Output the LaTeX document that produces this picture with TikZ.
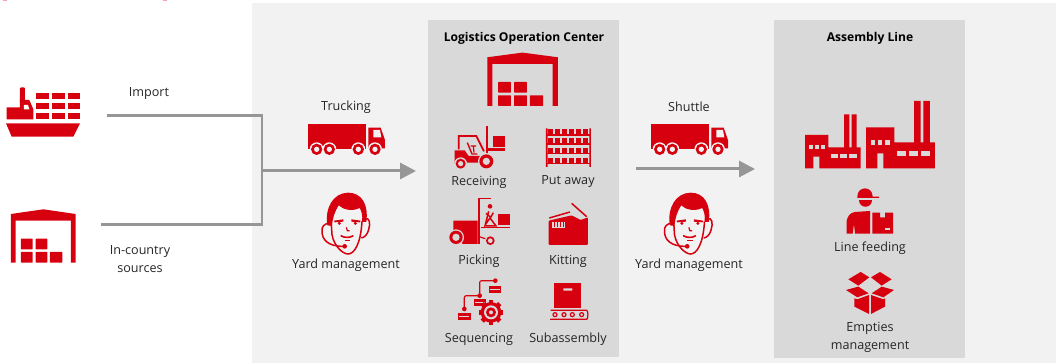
\documentclass[tikz,border=0pt]{standalone}
\usepackage{fontspec}
\setmainfont{Open Sans}
\usepackage{xcolor}
\usepackage{tikz}
\usetikzlibrary{positioning, arrows.meta}

\definecolor{brandred}{HTML}{D7000F}
\definecolor{panellight}{HTML}{F2F2F2}
\definecolor{panelgray}{HTML}{D9D9D9}
\definecolor{flowgray}{HTML}{969696}
\definecolor{inktext}{HTML}{262626}

\tikzset{
    brand/.style={fill=brandred, x=.3333pt, y=-.3333pt},
    brandline/.style={draw=brandred, line width=1.2pt, fill=none, x=.3333pt, y=-.3333pt},
    hole/.style={fill=#1, x=.3333pt, y=-.3333pt},
    % Warehouse
    warehouse/.pic={
        \fill[brand] (33,642) -- (130,628) -- (227,642) -- (227,788) -- (213,788) -- (213,662) -- (47,662) -- (47,788) -- (33,788) -- cycle;
        \foreach \bx/\by/\bw in {63/716/35, 107/716/35, 63/756/35, 107/756/35, 150/756/37}
            \fill[brand, rounded corners=.5pt] (\bx,\by) rectangle ++(\bw,32);
    },
    % Truck
    truck/.pic={
        \fill[brand] (83,132) rectangle (258,208);
        \fill[brand] (265,143) -- (302,143) -- (315,180) -- (315,205) -- (265,205) -- cycle;
        \fill[hole=panellight] (280,150) -- (300,150) -- (304,172) -- (280,172) -- cycle;
        \foreach \wx in {110, 148, 235, 285} {
            \fill[hole=panellight] (\wx,208) circle (21);
            \fill[brand] (\wx,208) circle (17);
            \fill[hole=panellight] (\wx,208) circle (8);
        }
    },
    % Operator with headset
    agent/.pic={
        \fill[brand] (28,112) .. controls (20,60) and (45,15) .. (90,14) .. controls (132,14) and (152,50) .. (145,102) -- (132,102) .. controls (135,82) and (130,68) .. (125,60) .. controls (100,72) and (75,64) .. (62,52) .. controls (50,72) and (44,88) .. (42,114) -- cycle;
        \draw[brandline, line width=1.5pt] (40,110) -- (42,140) .. controls (48,175) and (75,198) .. (90,198) .. controls (108,198) and (128,170) .. (132,100);
        \draw[brandline, line width=1.5pt] (32,105) .. controls (20,108) and (10,115) .. (12,130) .. controls (12,155) and (30,175) .. (75,175);
        \fill[brand] (80,175) circle (7);
        \draw[brandline, line width=1.5pt] (140,92) .. controls (155,88) and (158,105) .. (152,125) .. controls (148,140) and (140,148) .. (130,150);
        \fill[brand] (48,98) -- (76,94) -- (76,101) -- (50,103) -- cycle;
        \fill[brand] (100,94) -- (128,98) -- (126,103) -- (100,101) -- cycle;
        \fill[brand] (64,106) circle (5);
        \fill[brand] (112,106) circle (5);
        \draw[brandline] (85,118) -- (88,128) -- (95,128);
        \draw[brandline, line width=1.6pt] (68,143) .. controls (80,150) and (95,150) .. (106,143);
        \draw[brandline] (80,158) -- (96,158);
    },
    % Ship
    ship/.pic={
        \fill[brand] (18,370) -- (240,370) -- (220,410) -- (35,410) -- cycle;
        \fill[brand, rounded corners=1pt] (60,262) rectangle (75,310);
        \fill[brand] (20,322) -- (60,322) -- (60,300) -- (88,300) -- (100,328) -- (100,358) -- (20,358) -- cycle;
        \fill[hole=white] (72,315) -- (84,315) -- (88,328) -- (72,328) -- cycle;
        \foreach \cx in {108, 156, 203}
            \foreach \cy in {278, 308, 338}
                \fill[brand] (\cx,\cy) rectangle ++(38,20);
    },
    % Forklift
    forklift/.pic={
        \fill[brand] (113,12) rectangle (119,108);
        \fill[brand] (135,41) rectangle (171,76);
        \fill[brand] (120,79) rectangle (171,88);
        \draw[brandline, line width=1.8pt] (32,82) -- (32,42) -- (85,42) -- (108,88);
        \fill[brand] (20,85) -- (50,85) -- (62,102) -- (112,102) -- (112,122) -- (20,122) -- cycle;
        \draw[brandline, line width=1.4pt] (58,62) -- (72,96) -- (88,96);
        \draw[brandline] (68,72) -- (84,72) (76,72) -- (78,92);
        \foreach \wx/\wy/\wr in {38/125/15, 115/118/21} {
            \fill[hole=panelgray] (\wx,\wy) circle (\wr+4);
            \fill[brand] (\wx,\wy) circle (\wr);
            \fill[hole=panelgray] (\wx,\wy) circle (\wr*.52);
        }
    },
    % Rack
    rack/.pic={
        \fill[brand] (348,340) rectangle (353,456) (478,340) rectangle (483,456);
        \foreach \ry in {342, 370, 398, 428} {
            \foreach \rx in {355, 376, 397, 418, 439, 460}
                \fill[brand] (\rx,\ry) rectangle ++(15,17);
            \fill[brand] (348,\ry+15) rectangle (483,\ry+20);
        }
    },
    % Picking truck
    pickup/.pic={
        \fill[brand] (22,80) -- (95,80) -- (95,150) -- (50,150) -- (22,118) -- cycle;
        \draw[brandline, line width=1.6pt] (135,13) -- (99,13) -- (99,150);
        \draw[brandline] (100,128) -- (124,136);
        \draw[brandline] (104,100) -- (192,100);
        \fill[brand] (157,60) rectangle (192,92);
        \fill[brand] (132,37) circle (7);
        \draw[brandline, line width=1.5pt] (128,52) -- (118,92) -- (132,72) -- (150,96) -- (118,96);
        \draw[brandline, line width=1.5pt] (120,58) -- (134,70) -- (142,56);
        \foreach \wx/\wy/\wr in {30/130/20, 133/140/13} {
            \fill[hole=panelgray] (\wx,\wy) circle (\wr+4);
            \fill[brand] (\wx,\wy) circle (\wr);
            \fill[hole=panelgray] (\wx,\wy) circle (\wr*.55);
        }
    },
    % Open carton
    kitbox/.pic={
        \fill[brand, rounded corners=1pt] (356,92) -- (425,76) -- (452,90) -- (474,82) -- (474,165) -- (356,165) -- cycle;
        \draw[brandline, line width=1.5pt] (358,84) -- (420,66);
        \draw[brandline, line width=1.5pt] (425,40) -- (470,80);
        \fill[hole=panelgray] (367,95) rectangle (405,115);
        \foreach \kx in {372, 380, 390, 398}
            \fill[brand] (\kx,97) rectangle ++(3,14);
    },
    % Sequencing
    sequence/.pic={
        \draw[brandline, rounded corners=2pt] (130,20) -- (83,20) -- (83,65);
        \draw[brandline, rounded corners=2pt] (83,65) -- (37,65) -- (37,105);
        \foreach \dx/\dy in {130/20, 83/65, 37/105}
            \fill[brand] (\dx,\dy) circle (7);
        \foreach \lx/\ly in {110/35, 65/75, 18/118} {
            \fill[brand] (\lx,\ly) rectangle ++(38,21);
            \fill[hole=panelgray] (\lx+4,\ly+9) rectangle ++(30,3);
        }
        \foreach \ga in {0, 45, ..., 315}
            \fill[brand, rotate around={\ga:(117,115)}] (110,78) rectangle (124,90);
        \fill[brand] (117,115) circle (31);
        \fill[hole=panelgray] (117,115) circle (21);
        \fill[brand] (117,115) circle (15);
        \fill[hole=panelgray] (117,115) circle (6);
    },
    % Conveyor
    conveyor/.pic={
        \fill[brand] (373,280) rectangle (453,355);
        \fill[hole=panelgray, rounded corners=.5pt] (400,295) rectangle (427,302);
        \draw[brandline, rounded corners=4pt] (362,361) -- (458,361) .. controls (475,361) and (475,388) .. (458,388) -- (362,388);
        \fill[brand] (360,386) rectangle (470,391);
        \foreach \cx in {375, 402, 427, 455}
            \draw[brandline] (\cx,374) circle (6);
    },
    % Factory
    factory/.pic={
        \fill[brand] (105,345) -- (175,345) -- (175,382) -- (222,382) -- (222,283) -- (238,283) -- (238,382) -- (245,382) -- (245,283) -- (260,283) -- (260,382) -- (272,382) -- (272,445) -- (148,445) -- (148,410) -- (130,410) -- (130,445) -- (105,445) -- cycle;
        \fill[brand] (288,322) -- (373,322) -- (373,367) -- (432,367) -- (432,243) -- (452,243) -- (452,367) -- (460,367) -- (460,243) -- (480,243) -- (480,367) -- (495,367) -- (495,445) -- (340,445) -- (340,400) -- (322,400) -- (322,445) -- (288,445) -- cycle;
        \foreach \wx/\wy/\ww/\wh in {116/376/12/12, 134/376/12/12, 152/376/12/12, 182/402/22/12, 210/402/22/12, 238/402/22/12, 302/360/14/15, 323/360/14/15, 345/360/14/15, 382/392/26/16, 418/392/26/16, 454/392/26/16}
            \fill[hole=panelgray] (\wx,\wy) rectangle ++(\ww,\wh);
    },
    % Line feeder
    feeder/.pic={
        \fill[brand] (262,530) .. controls (262,497) and (308,497) .. (308,530) -- (327,530) -- (327,534) -- (262,534) -- cycle;
        \fill[brand] (266,539) -- (305,539) .. controls (305,567) and (266,567) .. (266,539) -- cycle;
        \fill[brand] (230,641) -- (230,603) .. controls (232,590) and (240,578) .. (255,576) -- (300,573) -- (300,641) -- (255,641) -- (252,612) -- (248,641) -- cycle;
        \fill[brand] (307,578) -- (330,578) -- (330,592) -- (345,592) -- (345,578) -- (369,578) -- (369,641) -- (307,641) -- cycle;
        \fill[hole=panelgray] (345,625) rectangle (360,630);
    },
    % Flat carton
    carton/.pic={
        \fill[brand] (235,778) -- (272,756) -- (298,772) -- (265,797) -- cycle;
        \fill[brand] (303,772) -- (330,756) -- (365,778) -- (335,797) -- cycle;
        \fill[brand] (228,810) -- (265,800) -- (296,820) -- (262,832) -- cycle;
        \fill[brand] (305,820) -- (335,800) -- (372,810) -- (340,832) -- cycle;
        \fill[brand] (253,835) -- (262,838) -- (297,825) -- (297,882) -- (253,860) -- cycle;
        \fill[brand] (303,825) -- (340,838) -- (345,835) -- (345,860) -- (303,882) -- cycle;
    }
}

\begin{document}
\begin{tikzpicture}[
    x=1pt, y=-1pt,
    txt/.style={font=\fontsize{12.6}{18}\selectfont, text=inktext, align=center, inner sep=0pt, yshift=-1.5pt},
    headtxt/.style={font=\fontsize{12.1}{18}\selectfont\bfseries, text=black, inner sep=0pt, yshift=-1.5pt},
    feedline/.style={draw=flowgray, line width=2.3pt},
    flowarrow/.style={draw=flowgray, line width=3pt, -{Triangle[length=16pt, width=16pt]}}
]
\useasboundingbox (0,0) rectangle (1056,363);

% Panels
\fill[panellight] (252,3) rectangle (1056,363);
\fill[panelgray] (428,20) rectangle (619,357);
\fill[panelgray] (774,20) rectangle (965,358);

% Clipped marks along the top edge
\fill[brandred!35] (3,0) rectangle (7,1);
\fill[brandred!35] (163,0) rectangle (167,1);

% Connectors
\coordinate (shipout) at (107,115.5);
\coordinate (storeout) at (101,224.5);
\coordinate (merge) at (262,171);
\coordinate (centerin) at (416,171);
\coordinate (shuttleout) at (636,169);
\coordinate (linein) at (755,169);

\draw[feedline] (shipout) -| (merge);
\draw[feedline] (storeout) -| (merge);
\draw[flowarrow] (merge) -- (centerin);
\draw[flowarrow] (shuttleout) -- (linein);

% Icons
\pic at (0,0) {ship};
\pic at (0,0) {warehouse};
\pic at (280,80) {truck};
\pic at (318,188) {agent};
\pic[xscale=1.09] at (475.3,-156.7) {warehouse};
\pic at (448,122) {forklift};
\pic at (430,15) {rack};
\pic at (446,194) {pickup};
\pic at (430,190) {kitbox};
\pic at (452,274) {sequence};
\pic at (430,190) {conveyor};
\pic at (623,80) {truck};
\pic at (660.5,188) {agent};
\pic at (770,20) {factory};
\pic at (770,20) {feeder};
\pic at (770,20) {carton};

% Labels
\node[txt] (import) at (149,92) {Import};
\node[txt] (incountry) at (140,257.5) {In-country\\sources};
\node[txt] (trucking) at (346,106) {Trucking};
\node[txt] (yard1) at (346,264) {Yard management};
\node[headtxt] (center) at (524,37) {Logistics Operation Center};
\node[txt] (receiving) at (479,180.5) {Receiving};
\node[txt] (putaway) at (568,180.5) {Put away};
\node[txt] (picking) at (479,259.5) {Picking};
\node[txt] (kitting) at (568,259.5) {Kitting};
\node[txt] (sequencing) at (479,337.5) {Sequencing};
\node[txt] (subassembly) at (568,337.5) {Subassembly};
\node[txt] (shuttle) at (689,105.5) {Shuttle};
\node[txt] (yard2) at (689,264) {Yard management};
\node[headtxt] (assembly) at (870,37) {Assembly Line};
\node[txt] (linefeed) at (870,246.5) {Line feeding};
\node[txt] (empties) at (870,335.5) {Empties\\management};

\end{tikzpicture}
\end{document}
